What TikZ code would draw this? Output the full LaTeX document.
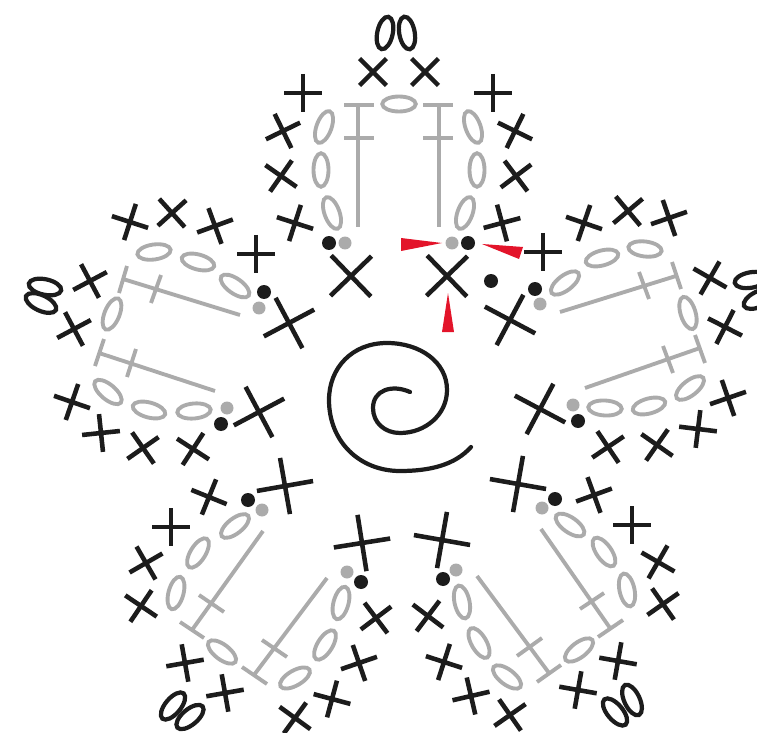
\documentclass[tikz,border=0pt]{standalone}
\definecolor{ink}{HTML}{1C1C1C}
\definecolor{thread}{HTML}{ABABAB}
\definecolor{mark}{HTML}{E3142A}
\tikzset{
  inkline/.style={draw=ink,line width=2.6pt,line cap=butt},
  bigline/.style={draw=ink,line width=2.6pt,line cap=butt},
  threadline/.style={draw=thread,line width=2.2pt,line cap=butt},
  threadloop/.style={draw=thread,line width=2.2pt},
  inkloop/.style={draw=ink,line width=2.4pt},
  inkdot/.style={fill=ink},
  threaddot/.style={fill=thread},
  marker/.style={fill=mark},
  spiralline/.style={draw=ink,line width=2.4pt,line cap=round,line join=round}
}
% small stitch: x, y, rotation
\newcommand\smallst[3]{\draw[inkline,shift={(#1,#2)},rotate=#3] (-19,0) -- (19,0) (0,-19) -- (0,19);}
\newcommand\bigst[3]{\draw[bigline,shift={(#1,#2)},rotate=#3] (-28.5,0) -- (28.5,0) (0,-28.5) -- (0,28.5);}
\newcommand\gloop[3]{\draw[threadloop,rotate around={#3:(#1,#2)}] (#1,#2) ellipse [x radius=0.335cm,y radius=0.15cm];}
\newcommand\kloop[3]{\draw[inkloop,rotate around={#3:(#1,#2)}] (#1,#2) ellipse [x radius=0.33cm,y radius=0.155cm];}
\newcommand\kdot[2]{\fill[inkdot] (#1,#2) circle [radius=0.14cm];}
\newcommand\gdot[2]{\fill[threaddot] (#1,#2) circle [radius=0.13cm];}
\begin{document}
\begin{tikzpicture}[x=0.02cm,y=-0.02cm]
\useasboundingbox (0,0) rectangle (757,733);
\clip (0,0) rectangle (757,733);
% --- top petal
\kloop{385}{33}{78}
\kloop{407}{33}{100}
\smallst{373}{72}{45}
\smallst{425}{72}{45}
\smallst{303}{93}{0}
\smallst{493}{93}{0}
\smallst{283}{131}{26}
\smallst{281}{176}{-35}
\smallst{295}{223}{-18}
\smallst{256}{254}{0}
\smallst{515}{131}{-26}
\smallst{516}{176}{37}
\smallst{502}{223}{15}
\smallst{543}{252}{0}
\gloop{399}{104}{0}
\gloop{324}{127}{70}
\gloop{321}{170}{90}
\gloop{332}{213}{110}
\gloop{473}{127}{110}
\gloop{477}{170}{90}
\gloop{465}{213}{70}
\draw[threadline] (358,227) -- (358,105) (344,105) -- (374,105) (344,138) -- (374,138);
\draw[threadline] (439,227) -- (439,105) (423,105) -- (453,105) (423,138) -- (453,138);
\kdot{329}{243}
\gdot{345}{243}
\gdot{452}{243}
\kdot{468}{243}
\bigst{351}{276}{44}
\bigst{447}{276}{44}
\kdot{491}{281}
\fill[marker] (401,238) -- (442,243) -- (401,251) -- cycle;
\fill[marker] (482,244) -- (523,247) -- (519,259) -- cycle;
\fill[marker] (448,293) -- (454,332) -- (442,332) -- cycle;
% --- upper left petal
\smallst{130}{222}{-18}
\smallst{172}{213}{42}
\smallst{215}{226}{20}
\smallst{90}{281}{28}
\smallst{74}{329}{28}
\kloop{45}{287}{-12}
\kloop{41}{303}{-25}
\smallst{72}{402}{-19}
\smallst{101}{433}{6}
\smallst{143}{448}{35}
\smallst{193}{449}{-33}
\bigst{289}{323}{28}
\bigst{259}{412}{28}
\kdot{264}{292}
\gdot{259}{308}
\gdot{227}{408}
\kdot{221}{424}
\gloop{154}{252}{8}
\gloop{198}{262}{-15}
\gloop{235}{286}{-35}
\gloop{112}{314}{68}
\gloop{108}{392}{-40}
\gloop{149}{410}{-15}
\gloop{194}{411}{5}
\draw[threadline] (240,315) -- (123,279) (127,266) -- (119,293) (161,275) -- (151,303);
\draw[threadline] (215,391) -- (99,353) (104,339) -- (95,366) (136,349) -- (127,377);
% --- upper right petal
\smallst{584}{223}{-19}
\smallst{628}{211}{40}
\smallst{669}{218}{19}
\smallst{710}{278}{-30}
\smallst{725}{327}{-27}
\kloop{751}{280}{10}
\kloop{759}{299}{25}
\smallst{728}{398}{19}
\smallst{698}{429}{-7}
\smallst{657}{445}{-35}
\smallst{608}{447}{34}
\bigst{510}{320}{-28}
\bigst{540}{409}{-28}
\kdot{535}{289}
\gdot{540}{304}
\gdot{573}{405}
\kdot{578}{421}
\gloop{565}{283}{37}
\gloop{602}{258}{15}
\gloop{645}{249}{-7}
\gloop{688}{313}{107}
\gloop{690}{388}{38}
\gloop{649}{406}{15}
\gloop{605}{408}{-3}
\draw[threadline] (560,312) -- (676,276) (672,262) -- (681,289) (639,272) -- (649,299);
\draw[threadline] (585,388) -- (700,348) (695,335) -- (705,363) (663,346) -- (673,373);
% --- lower left petal
\bigst{285}{486}{10}
\bigst{362}{543}{9}
\kdot{248}{500}
\gdot{262}{510}
\gdot{347}{572}
\kdot{361}{582}
\smallst{209}{497}{-22}
\smallst{171}{527}{0}
\smallst{146}{563}{30}
\smallst{141}{606}{-34}
\smallst{185}{663}{10}
\smallst{225}{693}{10}
\smallst{295}{718}{-36}
\smallst{332}{699}{-15}
\smallst{359}{663}{19}
\smallst{376}{618}{37}
\kloop{173}{706}{50}
\kloop{190}{717}{40}
\gloop{235}{526}{38}
\gloop{198}{553}{58}
\gloop{176}{593}{75}
\gloop{222}{652}{-37}
\gloop{295}{678}{30}
\gloop{325}{645}{58}
\gloop{341}{603}{75}
\draw[threadline] (263,531) -- (192,630) (180,622) -- (204,638) (199,595) -- (224,612);
\draw[threadline] (327,578) -- (254,675) (242,667) -- (267,684) (262,640) -- (287,657);
% --- lower right petal
\bigst{518}{484}{-10}
\bigst{442}{540}{-10}
\kdot{555}{499}
\gdot{542}{508}
\gdot{456}{570}
\kdot{443}{579}
\smallst{594}{495}{20}
\smallst{632}{525}{0}
\smallst{658}{562}{-30}
\smallst{663}{604}{35}
\smallst{618}{661}{-10}
\smallst{578}{690}{-10}
\smallst{510}{715}{35}
\smallst{471}{696}{13}
\smallst{444}{662}{-18}
\smallst{428}{616}{-37}
\kloop{615}{712}{-50}
\kloop{632}{700}{-65}
\gloop{570}{525}{-35}
\gloop{604}{552}{-55}
\gloop{627}{590}{-78}
\gloop{579}{650}{37}
\gloop{507}{677}{-37}
\gloop{479}{643}{-60}
\gloop{462}{602}{-78}
\draw[threadline] (541,529) -- (610,628) (598,637) -- (623,620) (580,609) -- (604,593);
\draw[threadline] (477,576) -- (549,673) (537,682) -- (561,665) (517,656) -- (542,638);
% --- centre spiral
\draw[spiralline] (410,392) .. controls (392,384) and (373,390) .. (373,408)
  .. controls (373,423) and (385,433) .. (400,433)
  .. controls (425,433) and (447,415) .. (447,390)
  .. controls (447,362) and (420,343) .. (387,343)
  .. controls (352,343) and (329,368) .. (329,400)
  .. controls (329,442) and (360,471) .. (400,471)
  .. controls (430,471) and (455,465) .. (471,447);
\end{tikzpicture}
\end{document}
